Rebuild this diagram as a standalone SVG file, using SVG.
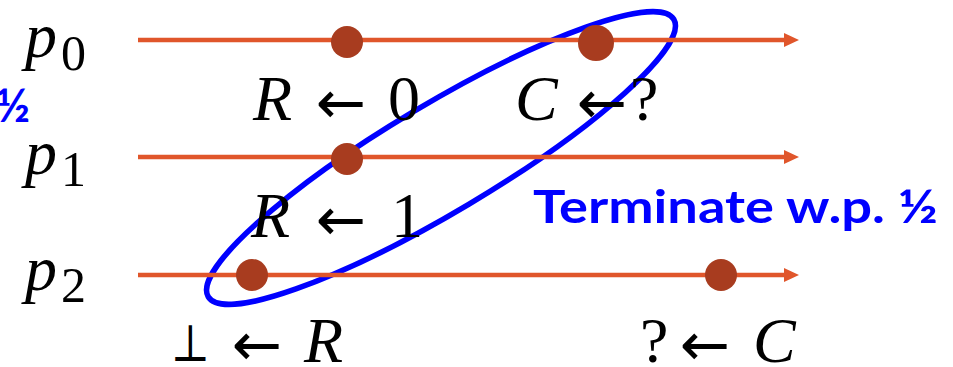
<svg xmlns="http://www.w3.org/2000/svg" width="953" height="367" viewBox="0 0 953 367">
<style>
.tl{stroke:#E0562B;stroke-width:4.5;fill:none}
.ah{fill:#E0562B}
.dot{fill:#A83C1F}
.m{font-family:"Liberation Serif","DejaVu Serif",serif;font-size:64px;fill:#000}
.i{font-style:italic}
.ar{font-family:"DejaVu Sans","Liberation Serif",sans-serif;font-size:60px;fill:#000;text-anchor:middle}
.bot{font-family:"DejaVu Serif","Liberation Serif",serif;font-size:52px;fill:#000}
.sub{font-family:"Liberation Serif","DejaVu Serif",serif;font-size:50px;fill:#000}
.blue{font-family:Lato,"Liberation Sans",sans-serif;font-weight:bold;font-size:46px;fill:#0000FF}
</style>
<rect width="953" height="367" fill="#fff"/>
<g id="ellipse">
<ellipse cx="441" cy="158" rx="271" ry="54" transform="rotate(-30.8 441 158)" fill="none" stroke="#0000FF" stroke-width="5.5"/>
</g>
<g id="connectors">
<line class="tl" x1="138" y1="40" x2="786" y2="40"/>
<polygon class="ah" points="784,33 799,40 784,47"/>
<line class="tl" x1="138" y1="157" x2="786" y2="157"/>
<polygon class="ah" points="784,150 799,157 784,164"/>
<line class="tl" x1="138" y1="275" x2="786" y2="275"/>
<polygon class="ah" points="784,268 799,275 784,282"/>
</g>
<g id="p0"><text class="m i" x="25" y="57">p</text><text class="sub" x="61" y="70">0</text></g>
<g id="p1"><text class="m i" x="25" y="174">p</text><text class="sub" x="61" y="186">1</text></g>
<g id="p2"><text class="m i" x="25" y="290">p</text><text class="sub" x="61" y="302">2</text></g>
<g id="half"><text class="blue" x="30" y="122" text-anchor="end">½</text></g>
<g id="e1"><circle class="dot" cx="347" cy="42" r="16"/></g>
<g id="e2"><circle class="dot" cx="596" cy="43" r="18"/></g>
<g id="e3"><circle class="dot" cx="347" cy="159" r="16"/></g>
<g id="e4"><circle class="dot" cx="252" cy="275" r="16"/></g>
<g id="e5"><circle class="dot" cx="721" cy="275" r="16"/></g>
<g id="l1"><text class="m i" x="253" y="120">R</text><text class="ar" x="341" y="123">←</text><text class="m" x="388" y="120">0</text></g>
<g id="l2"><text class="m i" x="515" y="120">C</text><text class="ar" x="602" y="123">←</text><text class="m" x="630" y="120">?</text></g>
<g id="l3"><text class="m i" x="251" y="237">R</text><text class="ar" x="341" y="240">←</text><text class="m" x="391" y="237">1</text></g>
<g id="l4"><text class="bot" x="171" y="361" textLength="39" lengthAdjust="spacingAndGlyphs">⊥</text><text class="ar" x="257" y="365">←</text><text class="m i" x="304" y="362">R</text></g>
<g id="l5"><text class="m" x="640" y="362">?</text><text class="ar" x="705" y="365">←</text><text class="m i" x="753" y="362">C</text></g>
<g id="term"><text class="blue" x="533" y="223" textLength="405" lengthAdjust="spacingAndGlyphs">Terminate w.p. ½</text></g>
</svg>
